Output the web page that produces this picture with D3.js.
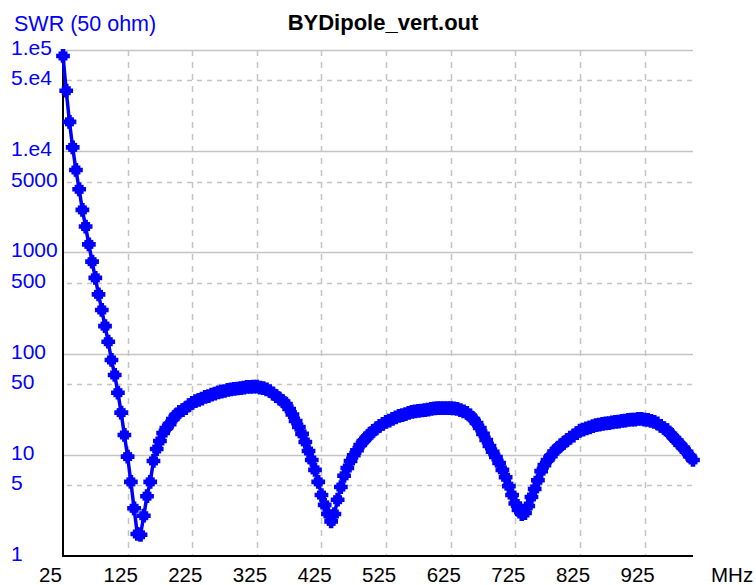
<!DOCTYPE html>
<html>
<head>
<meta charset="utf-8">
<script src="https://cdn.jsdelivr.net/npm/d3@7"></script>
<style>
  html, body { margin: 0; padding: 0; background: #ffffff; }
  svg { display: block; }
  text { font-family: "Liberation Sans", Arial, sans-serif; }
</style>
</head>
<body>
<svg id="chart" width="756" height="585"></svg>
<script>
// ---- data ----
const chartTitle = "BYDipole_vert.out";
const yAxisTitle = "SWR (50 ohm)";
const xAxisUnit = "MHz";

const freqMHz = [
  25, 30, 35, 40, 45, 50, 55, 60, 65, 70, 75, 80, 85, 90, 95, 100, 105, 110, 115, 120,
  125, 130, 135, 140, 145, 150, 155, 160, 165, 170, 175, 180, 185, 190, 195, 200, 205, 210, 215, 220,
  225, 230, 235, 240, 245, 250, 255, 260, 265, 270, 275, 280, 285, 290, 295, 300, 305, 310, 315, 320,
  325, 330, 335, 340, 345, 350, 355, 360, 365, 370, 375, 380, 385, 390, 395, 400, 405, 410, 415, 420,
  425, 430, 435, 440, 445, 450, 455, 460, 465, 470, 475, 480, 485, 490, 495, 500, 505, 510, 515, 520,
  525, 530, 535, 540, 545, 550, 555, 560, 565, 570, 575, 580, 585, 590, 595, 600, 605, 610, 615, 620,
  625, 630, 635, 640, 645, 650, 655, 660, 665, 670, 675, 680, 685, 690, 695, 700, 705, 710, 715, 720,
  725, 730, 735, 740, 745, 750, 755, 760, 765, 770, 775, 780, 785, 790, 795, 800, 805, 810, 815, 820,
  825, 830, 835, 840, 845, 850, 855, 860, 865, 870, 875, 880, 885, 890, 895, 900, 905, 910, 915, 920,
  925, 930, 935, 940, 945, 950, 955, 960, 965, 970, 975, 980, 985, 990, 995, 1000
];

const swrValues = [
  87300, 39600, 19500, 10900, 6520, 4200, 2630, 1800, 1200, 810, 560, 385, 270, 187, 131, 86.5, 61.5, 41.1, 26.1, 15.7,
  9.6, 5.4, 2.96, 1.65, 1.62, 2.5, 3.9, 5.4, 8.7, 11.4, 13.7, 16.4, 18.4, 20.1, 22.6, 24.7, 26.5, 27.7, 29.0, 31.0,
  32.5, 34.0, 34.8, 36.0, 37.3, 38.1, 39.4, 40.3, 41.3, 42.2, 42.7, 43.7, 44.2, 44.7, 45.2, 45.7, 46.2, 46.8, 46.8, 47.1,
  47.1, 46.2, 45.7, 44.2, 42.7, 40.3, 38.1, 36.0, 34.0, 31.8, 28.4, 25.0, 21.6, 18.8, 16.1, 13.4, 10.9, 8.9, 7.1, 5.4,
  4.0, 3.2, 2.6, 2.2, 2.6, 3.6, 4.8, 6.2, 7.4, 8.7, 9.9, 11.1, 12.5, 13.7, 14.8, 16.1, 17.2, 18.2, 19.3, 20.2,
  21.1, 21.8, 22.6, 23.4, 24.2, 24.7, 25.3, 25.9, 26.5, 26.8, 27.1, 27.4, 27.7, 28.0, 28.4, 28.7, 29.0, 29.0, 29.0, 29.0,
  29.0, 28.7, 28.4, 27.7, 26.8, 25.9, 24.5, 22.6, 20.6, 18.4, 16.1, 14.0, 12.2, 10.7, 9.5, 8.3, 7.1, 6.0, 4.9, 4.0,
  3.3, 2.85, 2.6, 2.66, 3.12, 3.83, 4.6, 5.6, 6.9, 7.9, 8.9, 9.7, 10.8, 11.5, 12.4, 13.1, 14.0, 14.8, 15.5, 16.4,
  17.3, 17.7, 18.2, 18.7, 19.2, 19.6, 19.9, 20.2, 20.4, 20.6, 20.9, 21.1, 21.3, 21.6, 21.8, 22.1, 22.3, 22.3, 22.6, 22.6,
  22.3, 22.1, 21.6, 21.1, 20.4, 19.3, 18.4, 17.5, 16.1, 14.8, 13.8, 12.6, 11.7, 10.7, 9.7, 8.9
];

const xTickValues = [25, 125, 225, 325, 425, 525, 625, 725, 825, 925];
const xTickLabels = ["25", "125", "225", "325", "425", "525", "625", "725", "825", "925"];
const yMajorValues = [1, 10, 100, 1000, 10000, 100000];
const yMinorValues = [5, 50, 500, 5000, 50000];
const yTickValues = [100000, 50000, 10000, 5000, 1000, 500, 100, 50, 10, 5, 1];
const yTickLabels = ["1.e5", "5.e4", "1.e4", "5000", "1000", "500", "100", "50", "10", "5", "1"];

// ---- drawing ----
const svg = d3.select("#chart");
const plot = { left: 63, right: 693, top: 50, bottom: 556 };

const x = d3.scaleLinear().domain([25, 1000]).range([plot.left, plot.right]);
const y = d3.scaleLog().domain([1, 100000]).range([plot.bottom, plot.top]);

const gridColor = "#c4c4c4";
const blue = "#0000ff";

// horizontal grid
svg.append("g").selectAll("line")
  .data(yMajorValues.filter(v => v > 1))
  .join("line")
  .attr("x1", plot.left).attr("x2", plot.right)
  .attr("y1", d => Math.round(y(d)) + 0.5).attr("y2", d => Math.round(y(d)) + 0.5)
  .attr("stroke", gridColor).attr("stroke-width", 1.5);

svg.append("g").selectAll("line")
  .data(yMinorValues)
  .join("line")
  .attr("x1", plot.left + 4).attr("x2", plot.right)
  .attr("y1", d => Math.round(y(d)) + 0.5).attr("y2", d => Math.round(y(d)) + 0.5)
  .attr("stroke", gridColor).attr("stroke-width", 1.5)
  .attr("stroke-dasharray", "5,5");

// vertical grid
svg.append("g").selectAll("line")
  .data(xTickValues.filter(v => v > 25))
  .join("line")
  .attr("x1", d => Math.round(x(d)) + 0.5).attr("x2", d => Math.round(x(d)) + 0.5)
  .attr("y1", plot.top).attr("y2", plot.bottom)
  .attr("stroke", gridColor).attr("stroke-width", 1.5)
  .attr("stroke-dasharray", "6,6");

// axes lines
svg.append("line")
  .attr("x1", plot.left).attr("x2", plot.left)
  .attr("y1", plot.top).attr("y2", plot.bottom + 1)
  .attr("stroke", "#000").attr("stroke-width", 2);
svg.append("line")
  .attr("x1", plot.left - 1).attr("x2", plot.right)
  .attr("y1", plot.bottom).attr("y2", plot.bottom)
  .attr("stroke", "#000").attr("stroke-width", 2);

// y tick labels
svg.append("g").selectAll("text")
  .data(yTickValues)
  .join("text")
  .attr("x", 11)
  .attr("y", d => y(d) + 5)
  .attr("fill", blue)
  .attr("font-size", 21)
  .text((d, i) => yTickLabels[i]);

// x tick labels
svg.append("g").selectAll("text")
  .data(xTickValues)
  .join("text")
  .attr("x", d => x(d) - 24)
  .attr("y", 582)
  .attr("fill", "#000")
  .attr("font-size", 20.5)
  .text((d, i) => xTickLabels[i]);

svg.append("text")
  .attr("x", 711).attr("y", 582)
  .attr("font-size", 20.5).attr("fill", "#000")
  .text(xAxisUnit);

svg.append("text")
  .attr("x", 14).attr("y", 31)
  .attr("font-size", 21.5).attr("fill", blue)
  .text(yAxisTitle);

svg.append("text")
  .attr("x", 383).attr("y", 30)
  .attr("text-anchor", "middle")
  .attr("font-size", 22).attr("font-weight", "bold").attr("fill", "#000")
  .text(chartTitle);

// series
const pts = freqMHz.map((f, i) => [f, swrValues[i]]);
const line = d3.line().x(d => x(d[0])).y(d => y(d[1]));

svg.append("path")
  .datum(pts)
  .attr("d", line)
  .attr("fill", "none")
  .attr("stroke", blue)
  .attr("stroke-width", 3.5)
  .attr("stroke-linejoin", "round");

const sq = d3.symbol().type(d3.symbolSquare).size(81)();
const cr = d3.symbol().type(d3.symbolCross).size(105)();
const mk = svg.append("g").selectAll("g")
  .data(pts)
  .join("g")
  .attr("transform", d => `translate(${x(d[0])},${y(d[1])})`);
mk.append("path").attr("d", sq).attr("fill", blue);
mk.append("path").attr("d", cr).attr("fill", blue);
</script>
</body>
</html>
